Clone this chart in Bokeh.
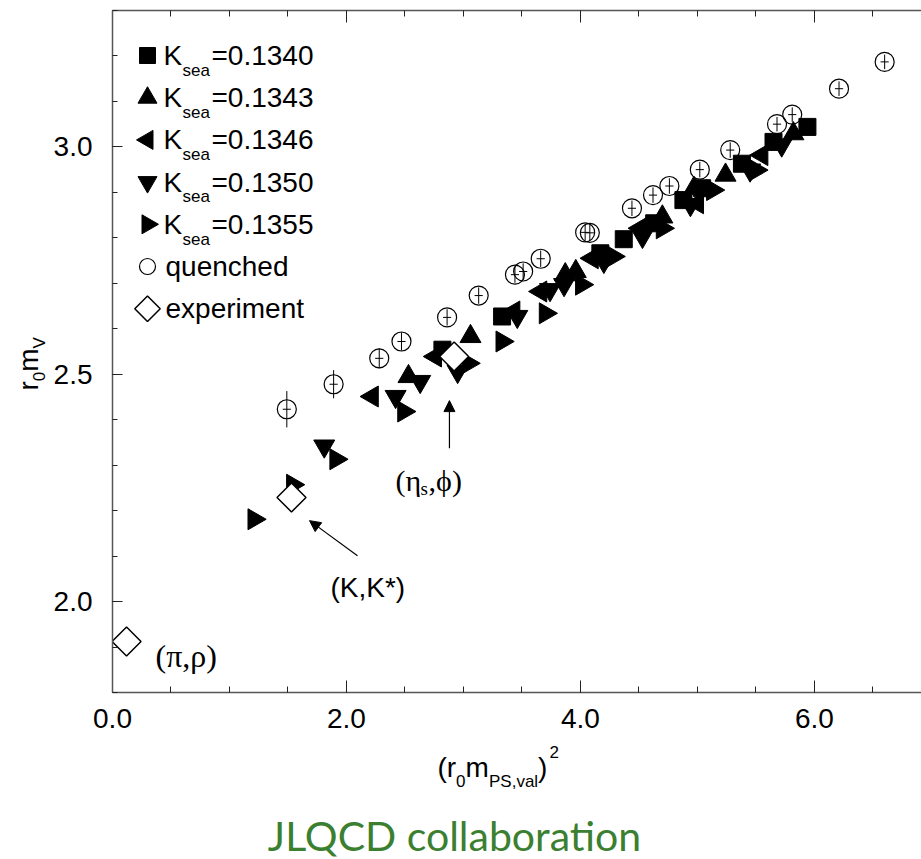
import numpy as np
from bokeh.plotting import figure
from bokeh.layouts import column, row
from bokeh.models import (Range1d, LinearAxis, FixedTicker, Label, Arrow, NormalHead,
                          PrintfTickFormatter)
from bokeh.embed import file_html
from bokeh.resources import INLINE

# ---------------- data ----------------
k1340_x = [2.82, 3.33, 4.17, 4.37, 4.63, 4.88, 5.04, 5.38, 5.65, 5.94]
k1340_y = [2.554, 2.627, 2.766, 2.797, 2.832, 2.883, 2.909, 2.963, 3.011, 3.044]

k1343_x = [2.53, 3.06, 3.87, 3.96, 4.70, 4.97, 5.24, 5.82]
k1343_y = [2.495, 2.583, 2.719, 2.726, 2.846, 2.909, 2.938, 3.029]

k1346_x = [2.22, 2.76, 3.43, 3.66, 4.10, 4.51, 5.00, 5.55]
k1346_y = [2.451, 2.539, 2.638, 2.682, 2.755, 2.821, 2.876, 2.982]

k1350_x = [1.81, 2.42, 2.63, 2.95, 3.46, 3.74, 3.86, 4.20, 4.53, 4.94, 5.45, 5.72]
k1350_y = [2.342, 2.451, 2.484, 2.506, 2.627, 2.686, 2.697, 2.748, 2.803, 2.873, 2.949, 3.004]

k1355_x = [1.21, 1.54, 1.91, 2.49, 3.04, 3.33, 3.70, 4.01, 4.28, 4.70, 5.13, 5.50]
k1355_y = [2.181, 2.257, 2.313, 2.418, 2.524, 2.572, 2.634, 2.697, 2.759, 2.821, 2.905, 2.949]

quenched_x = [1.49, 1.89, 2.28, 2.47, 2.86, 3.13, 3.44, 3.51, 3.66, 4.04, 4.08,
              4.44, 4.62, 4.76, 5.02, 5.28, 5.68, 5.81, 6.21, 6.60]
quenched_y = [2.423, 2.478, 2.535, 2.572, 2.625, 2.673, 2.719, 2.726, 2.754, 2.812, 2.811,
              2.865, 2.894, 2.914, 2.950, 2.993, 3.050, 3.071, 3.128, 3.187]
quenched_yerr = [0.040, 0.031, 0.022, 0.020, 0.018, 0.018, 0.018, 0.018, 0.018, 0.018, 0.018,
                 0.017, 0.017, 0.017, 0.017, 0.017, 0.016, 0.016, 0.016, 0.016]
quenched_xerr = [0.035] * len(quenched_x)

exp_x = [0.12, 1.53, 2.92]
exp_y = [1.912, 2.229, 2.539]

legend_values = ["0.1340", "0.1343", "0.1346", "0.1350", "0.1355"]
x_ticks = [0.0, 2.0, 4.0, 6.0]
y_ticks = [2.0, 2.5, 3.0]

# annotation anchors (data coordinates)
pirho_pos = (0.368, 1.881)
kks_pos = (1.863, 2.031)
etaphi_pos = (2.420, 2.266)
kks_arrow = (2.094, 2.101, 1.684, 2.178)
etaphi_arrow = (2.880, 2.337, 2.880, 2.442)

# ---------------- layout constants (page pixels) ----------------
SANS = "Liberation Sans"
SERIF = "Liberation Serif"
PAGE_H = 859
YFIG_W = 50
MAIN_W, MAIN_H = 871, 740
FRAME_LEFT, FRAME_TOP, FRAME_BOTTOM = 112, 10, 692
FRAME_W = 921 - FRAME_LEFT
FRAME_H = FRAME_BOTTOM - FRAME_TOP
X0, X1 = 0.0, 6.915
Y0, Y1 = 1.8, 3.3
MID = 0.36  # distance (in em) from the alphabetic baseline up to the "middle" anchor


def px2x(px):
    return X0 + (px - FRAME_LEFT) / FRAME_W * (X1 - X0)


def py2y(py):
    return Y0 + (FRAME_BOTTOM - py) / FRAME_H * (Y1 - Y0)


def mid_from_base(base, size_px):
    return base - MID * size_px


# ---------------- main figure ----------------
p = figure(width=MAIN_W, height=MAIN_H, output_backend="svg", toolbar_location=None,
           x_range=Range1d(X0, X1), y_range=Range1d(Y0, Y1),
           min_border_left=FRAME_LEFT - YFIG_W, min_border_right=0,
           min_border_top=FRAME_TOP, min_border_bottom=MAIN_H - FRAME_BOTTOM)
p.xgrid.visible = False
p.ygrid.visible = False
p.outline_line_color = None

xt = FixedTicker(ticks=x_ticks, minor_ticks=[i * 0.5 for i in range(15)])
yt = FixedTicker(ticks=y_ticks, minor_ticks=[round(1.8 + 0.1 * i, 2) for i in range(16)])

axis_col = "#555555"
tick_col = "#222222"
for ax in p.xaxis:
    ax.ticker = xt
    ax.formatter = PrintfTickFormatter(format="%.1f")
    ax.major_tick_in = 12
    ax.major_tick_out = 0
    ax.minor_tick_in = 6
    ax.minor_tick_out = 0
    ax.major_label_standoff = 16
    ax.major_label_text_font = SANS
    ax.major_label_text_font_size = "28px"
    ax.major_label_text_color = "black"
    ax.axis_line_color = axis_col
    ax.axis_line_width = 1.5
    ax.major_tick_line_color = tick_col
    ax.minor_tick_line_color = tick_col
for ax in p.yaxis:
    ax.ticker = yt
    ax.formatter = PrintfTickFormatter(format="%.1f")
    ax.major_tick_in = 10
    ax.major_tick_out = 0
    ax.minor_tick_in = 5
    ax.minor_tick_out = 0
    ax.major_label_standoff = 20
    ax.major_label_text_font = SANS
    ax.major_label_text_font_size = "28px"
    ax.major_label_text_color = "black"
    ax.axis_line_color = axis_col
    ax.axis_line_width = 1.5
    ax.major_tick_line_color = tick_col
    ax.minor_tick_line_color = tick_col

top = LinearAxis(ticker=xt, major_label_standoff=0,
                 major_label_overrides={t: "" for t in x_ticks},
                 major_tick_in=12, major_tick_out=0, minor_tick_in=6, minor_tick_out=0,
                 axis_line_color=axis_col, axis_line_width=1.5,
                 major_tick_line_color=tick_col, minor_tick_line_color=tick_col)
p.add_layout(top, "above")

# ---------------- glyphs ----------------
common = dict(fill_color="black", line_color="black")
series = [
    (k1340_x, k1340_y, dict(marker="square", size=17)),
    (k1343_x, k1343_y, dict(marker="triangle", size=21)),
    (k1346_x, k1346_y, dict(marker="triangle", angle=np.pi / 2, size=21)),
    (k1350_x, k1350_y, dict(marker="inverted_triangle", size=21)),
    (k1355_x, k1355_y, dict(marker="triangle", angle=-np.pi / 2, size=21)),
]
for sx_, sy_, kw in series:
    p.scatter(sx_, sy_, **kw, **common)

qx = np.array(quenched_x); qy = np.array(quenched_y)
qye = np.array(quenched_yerr); qxe = np.array(quenched_xerr)
p.segment(qx, qy - qye, qx, qy + qye, line_color="black", line_width=1)
p.segment(qx - qxe, qy, qx + qxe, qy, line_color="black", line_width=1)
p.scatter(quenched_x, quenched_y, marker="circle", size=19, fill_alpha=0,
          line_color="black", line_width=1.2)

p.scatter(exp_x, exp_y, marker="square", angle=np.pi / 4, size=20.5,
          fill_color="white", line_color="black", line_width=1.5)

# arrows
head = dict(size=11, fill_color="black", line_color="black")
p.add_layout(Arrow(end=NormalHead(**head), x_start=kks_arrow[0], y_start=kks_arrow[1],
                   x_end=kks_arrow[2], y_end=kks_arrow[3], line_width=1.2))
p.add_layout(Arrow(end=NormalHead(**head), x_start=etaphi_arrow[0], y_start=etaphi_arrow[1],
                   x_end=etaphi_arrow[2], y_end=etaphi_arrow[3], line_width=1.2))

# annotation texts
lab = dict(text_color="black", text_baseline="middle")
p.add_layout(Label(x=pirho_pos[0], y=pirho_pos[1], text="(π,ρ)", text_font=SERIF,
                   text_font_size="32px", **lab))
p.add_layout(Label(x=kks_pos[0], y=kks_pos[1], text="(K,K*)", text_font=SANS,
                   text_font_size="28px", **lab))
p.add_layout(Label(x=etaphi_pos[0], y=etaphi_pos[1], text="(η", text_font=SERIF,
                   text_font_size="30px", **lab))
p.add_layout(Label(x=etaphi_pos[0], y=etaphi_pos[1], x_offset=25, y_offset=-8, text="s",
                   text_font=SERIF, text_font_size="19px", **lab))
p.add_layout(Label(x=etaphi_pos[0], y=etaphi_pos[1], x_offset=33, text=",ϕ)", text_font=SERIF,
                   text_font_size="30px", **lab))

# ---------------- legend (keys drawn through the plot's scales) ----------------
LEG_X = 147
LEG_ROWS = [55 + 42.2 * i for i in range(7)]
leg_keys = [
    dict(marker="square", size=16, **common),
    dict(marker="triangle", size=19, **common),
    dict(marker="triangle", angle=np.pi / 2, size=19, **common),
    dict(marker="inverted_triangle", size=19, **common),
    dict(marker="triangle", angle=-np.pi / 2, size=19, **common),
    dict(marker="circle", size=16, fill_alpha=0, line_color="black", line_width=1.2),
    dict(marker="square", angle=np.pi / 4, size=18, fill_color="white", line_color="black",
         line_width=1.5),
]
for cy, kw in zip(LEG_ROWS, leg_keys):
    p.scatter([px2x(LEG_X)], [py2y(cy)], **kw)


def flabel(px, py, text, size_px, font=SANS):
    p.add_layout(Label(x=px - FRAME_LEFT, y=FRAME_BOTTOM - py, x_units="screen",
                       y_units="screen", text=text, text_font=font,
                       text_font_size=f"{size_px}px", text_color="black",
                       text_baseline="middle"))


for cy, val in zip(LEG_ROWS, legend_values):
    flabel(163, cy, "K", 28)
    flabel(182, mid_from_base(cy + 21, 17), "sea", 17)
    flabel(211, cy, "=" + val, 28)
flabel(165, LEG_ROWS[5], "quenched", 28)
flabel(165, LEG_ROWS[6], "experiment", 28)

# ---------------- y-axis label figure (its frame is aligned with the main frame) ----------------
yfig = figure(width=YFIG_W, height=MAIN_H, output_backend="svg", toolbar_location=None,
              x_range=Range1d(0, 1), y_range=Range1d(0, 1), x_axis_type=None,
              y_axis_type=None, min_border=0, outline_line_color=None)
yfig.grid.visible = False


def ylabel(base_x, py, text, size_px):
    # rotated text: its "up" points to page -x, so the middle anchor sits left of the baseline
    yfig.add_layout(Label(x=mid_from_base(base_x, size_px), x_units="screen", y=1.0,
                          y_offset=-(py - FRAME_TOP), text=text, text_font=SANS,
                          text_font_size=f"{size_px}px", text_color="black",
                          angle=np.pi / 2, text_baseline="middle"))


ylabel(38, 390, "r", 28)
ylabel(45, 380.7, "0", 17)
ylabel(38, 371.2, "m", 28)
ylabel(45, 347.9, "V", 17)

# ---------------- bottom figure: x-axis label and caption ----------------
BOT_TOP = MAIN_H
BOT_H = PAGE_H - MAIN_H
bfig = figure(width=921, height=BOT_H, output_backend="svg", toolbar_location=None,
              x_range=Range1d(0, 1), y_range=Range1d(0, 1), x_axis_type=None,
              y_axis_type=None, min_border=0, outline_line_color=None)
bfig.grid.visible = False


def blabel(px, base_y, text, size_px, **kw):
    opts = dict(text_font=SANS, text_color="black", text_baseline="middle")
    opts.update(kw)
    bfig.add_layout(Label(x=px, x_units="screen", y=1.0,
                          y_offset=-(mid_from_base(base_y, size_px) - BOT_TOP),
                          text=text, text_font_size=f"{size_px}px", **opts))


blabel(437, 777, "(r", 28)
blabel(455.6, 787, "0", 17)
blabel(465, 777, "m", 28)
blabel(488.5, 787, "PS,val", 17)
blabel(537.5, 777, ")", 28)
blabel(549, 758, "2", 17)
blabel(454, 850, "JLQCD collaboration", 41, text_font="Lato", text_color="#3b7f30",
       text_align="center")

layout = column(row(yfig, p, spacing=0), bfig, spacing=0)
open("out.html", "w").write(file_html(layout, INLINE))
